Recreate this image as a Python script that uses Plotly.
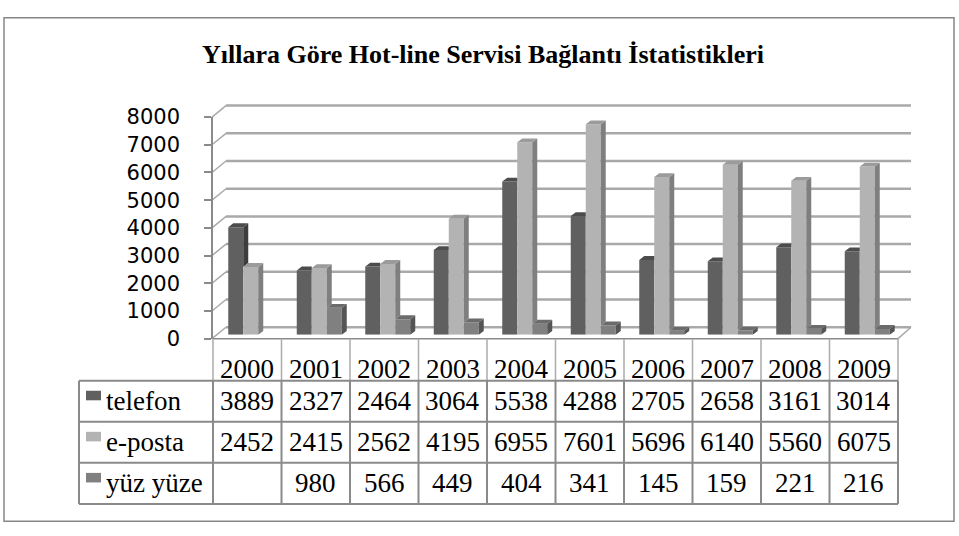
import plotly.graph_objects as go

# ---------------- data ----------------
years = ["2000", "2001", "2002", "2003", "2004", "2005", "2006", "2007", "2008", "2009"]
telefon = [3889, 2327, 2464, 3064, 5538, 4288, 2705, 2658, 3161, 3014]
e_posta = [2452, 2415, 2562, 4195, 6955, 7601, 5696, 6140, 5560, 6075]
yuz_yuze = [None, 980, 566, 449, 404, 341, 145, 159, 221, 216]
series_names = ["telefon", "e-posta", "yüz yüze"]
y_ticks = [0, 1000, 2000, 3000, 4000, 5000, 6000, 7000, 8000]
title_text = "Yıllara Göre Hot-line Servisi Bağlantı İstatistikleri"

# ---------------- style ----------------
W, H = 959, 536
front_col = ["#606060", "#b3b3b3", "#808080"]
side_col = ["#3d3d3d", "#7f7f7f", "#555555"]
top_col = ["#4c4c4c", "#9b9b9b", "#6b6b6b"]
grid_col = "#a9a9a9"
line_col = "#8a8a8a"
serif = "Liberation Serif, Times New Roman, serif"


def X(px):
    return px / W


def Y(py):
    return 1 - py / H


# plot geometry (pixels)
FX0, FX1 = 213, 898          # front plane x span (category range -0.5 .. 9.5)
FY0, FY8 = 342, 110          # front plane y for 0 and 8000
BAR_OFF = (3.5, -4)          # bar plane offset
BACK_OFF = (13, -12)         # back wall offset
YMAX = 8000
ncat = len(years)
cat_w = (FX1 - FX0) / ncat


def fy(v, off=0):
    return FY0 + off - (FY0 - FY8) * v / YMAX


bar_w = 0.219
dx = 5 / cat_w
dy = 4 / ((FY0 - FY8) / YMAX)

fig = go.Figure()

all_series = [telefon, e_posta, yuz_yuze]
xs = list(range(ncat))

# front faces
for j, (name, vals) in enumerate(zip(series_names, all_series)):
    fig.add_trace(go.Bar(
        x=xs, y=vals, name=name, marker=dict(color=front_col[j], line=dict(width=0)),
        xaxis="x", yaxis="y", showlegend=False, hoverinfo="skip"))

# side and top faces (3D look), derived from the data
for j, vals in enumerate(all_series):
    sx, sy, tx, ty = [], [], [], []
    for i in xs:
        v = vals[i]
        if v is None:
            continue
        xl = i + (j - 1) * bar_w - bar_w / 2
        xr = xl + bar_w
        vn = all_series[j + 1][i] if j + 1 < len(all_series) else None
        bottom = vn if vn is not None else 0
        if v > bottom:
            sx += [xr, xr + dx, xr + dx, xr, xr, None]
            sy += [bottom, bottom + dy, v + dy, v, bottom, None]
        if vn is not None and vn > v + dy / 2:
            tx += [xl, xl + dx, xr, xr, xl, None]
            ty += [v, v + dy, v + dy, v, v, None]
        else:
            tx += [xl, xl + dx, xr + dx, xr, xl, None]
            ty += [v, v + dy, v + dy, v, v, None]
    fig.add_trace(go.Scatter(x=sx, y=sy, mode="lines", fill="toself", fillcolor=side_col[j],
                             line=dict(width=0, color=side_col[j]), xaxis="x", yaxis="y",
                             showlegend=False, hoverinfo="skip"))
    fig.add_trace(go.Scatter(x=tx, y=ty, mode="lines", fill="toself", fillcolor=top_col[j],
                             line=dict(width=0, color=top_col[j]), xaxis="x", yaxis="y",
                             showlegend=False, hoverinfo="skip"))

# dummy trace to hold the front axis
fig.add_trace(go.Scatter(x=[None], y=[None], xaxis="x2", yaxis="y2", showlegend=False,
                         hoverinfo="skip"))

shapes = []
# back wall gridlines and left wall diagonals
for v in y_ticks:
    shapes.append(dict(type="line", xref="paper", yref="paper",
                       x0=X(FX0 + BACK_OFF[0]), x1=X(FX1 + BACK_OFF[0]),
                       y0=Y(fy(v, BACK_OFF[1])), y1=Y(fy(v, BACK_OFF[1])),
                       line=dict(color=grid_col, width=2.5), layer="below"))
    shapes.append(dict(type="line", xref="paper", yref="paper",
                       x0=X(FX0 - 1), x1=X(FX0 + BACK_OFF[0]),
                       y0=Y(fy(v)), y1=Y(fy(v, BACK_OFF[1])),
                       line=dict(color=grid_col, width=1.5), layer="below"))
# floor right edge
shapes.append(dict(type="line", xref="paper", yref="paper",
                   x0=X(FX1), x1=X(FX1 + BACK_OFF[0]), y0=Y(FY0), y1=Y(fy(0, BACK_OFF[1])),
                   line=dict(color=grid_col, width=1.5), layer="below"))
# floor front edge
shapes.append(dict(type="line", xref="paper", yref="paper",
                   x0=X(FX0), x1=X(FX1), y0=Y(FY0), y1=Y(FY0),
                   line=dict(color=line_col, width=1.5)))

# data table
T_TOP, ROW_H = 386, 43
T_LEFT = 79
col_edges = [FX0 + k * cat_w for k in range(ncat + 1)]
for k, xe in enumerate(col_edges):
    shapes.append(dict(type="line", xref="paper", yref="paper", x0=X(xe), x1=X(xe),
                       y0=Y(FY0), y1=Y(T_TOP), line=dict(color="#ababab", width=1.5)))
    shapes.append(dict(type="line", xref="paper", yref="paper", x0=X(xe), x1=X(xe),
                       y0=Y(T_TOP), y1=Y(T_TOP + 3 * ROW_H), line=dict(color=line_col, width=2)))
shapes.append(dict(type="line", xref="paper", yref="paper", x0=X(T_LEFT), x1=X(T_LEFT),
                   y0=Y(T_TOP), y1=Y(T_TOP + 3 * ROW_H), line=dict(color=line_col, width=2)))
for r in range(4):
    yy = T_TOP + r * ROW_H
    shapes.append(dict(type="line", xref="paper", yref="paper", x0=X(T_LEFT), x1=X(FX1),
                       y0=Y(yy), y1=Y(yy), line=dict(color=line_col, width=2)))
# legend keys
for j in range(3):
    rc = T_TOP + j * ROW_H + ROW_H / 2
    shapes.append(dict(type="rect", xref="paper", yref="paper", x0=X(86), x1=X(101),
                       y0=Y(rc - 11), y1=Y(rc - 1), fillcolor=front_col[j],
                       line=dict(width=0)))
# outer border
shapes.append(dict(type="rect", xref="paper", yref="paper", x0=X(4), x1=X(954),
                   y0=Y(6), y1=Y(533), line=dict(color="#868686", width=1.5)))

annotations = [dict(text="<b>" + title_text + "</b>", xref="paper", yref="paper",
                    x=X(483), y=Y(45), showarrow=False, xanchor="center", yanchor="middle",
                    font=dict(family=serif, size=26, color="black"))]
for i, yr in enumerate(years):
    cx = FX0 + (i + 0.5) * cat_w
    annotations.append(dict(text=yr, xref="paper", yref="paper", x=X(cx), y=Y(374),
                            showarrow=False, xanchor="center", yanchor="middle",
                            font=dict(family=serif, size=27, color="black")))
    for j, vals in enumerate(all_series):
        v = vals[i]
        if v is None:
            continue
        rc = T_TOP + j * ROW_H + ROW_H / 2
        annotations.append(dict(text=str(v), xref="paper", yref="paper", x=X(cx), y=Y(rc),
                                showarrow=False, xanchor="center", yanchor="middle",
                                font=dict(family=serif, size=27, color="black")))
for j, name in enumerate(series_names):
    rc = T_TOP + j * ROW_H + ROW_H / 2
    annotations.append(dict(text=name, xref="paper", yref="paper", x=X(104), y=Y(rc),
                            showarrow=False, xanchor="left", yanchor="middle",
                            font=dict(family=serif, size=27, color="black")))

fig.update_layout(
    width=W, height=H, margin=dict(l=0, r=0, t=0, b=0),
    paper_bgcolor="white", plot_bgcolor="rgba(0,0,0,0)",
    barmode="group", bargap=1 - 3 * bar_w, bargroupgap=0,
    showlegend=False,
    xaxis=dict(domain=[X(FX0 + BAR_OFF[0]), X(FX1 + BAR_OFF[0])], range=[-0.5, ncat - 0.5],
               visible=False, anchor="y", fixedrange=True),
    yaxis=dict(domain=[Y(fy(0, BAR_OFF[1])), Y(fy(YMAX, BAR_OFF[1]))], range=[0, YMAX],
               visible=False, anchor="x", fixedrange=True),
    xaxis2=dict(domain=[X(FX0), X(FX1)], range=[-0.5, ncat - 0.5], visible=False,
                anchor="y2", fixedrange=True),
    yaxis2=dict(domain=[Y(FY0), Y(FY8)], range=[0, YMAX], anchor="x2",
                tickvals=y_ticks, ticktext=[str(t) for t in y_ticks],
                ticks="outside", ticklen=7, tickcolor=line_col, tickwidth=1.5,
                showline=True, linecolor=line_col, linewidth=1.5,
                showgrid=False, zeroline=False, ticklabelstandoff=20,
                tickfont=dict(family="DejaVu Sans", size=21, color="black"),
                fixedrange=True),
    shapes=shapes, annotations=annotations,
)

fig.write_html("out.html", config={"displayModeBar": False},
               post_script="document.body.style.margin='0';document.body.style.overflow='hidden';")
